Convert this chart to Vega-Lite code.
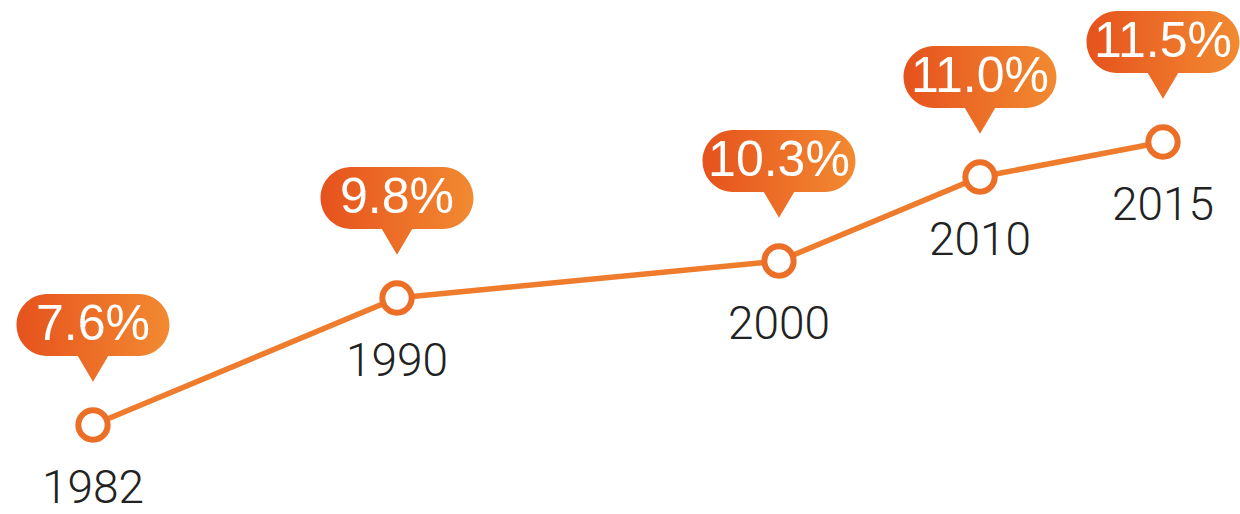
{
  "$schema": "https://vega.github.io/schema/vega-lite/v6.json",
  "width": 1240,
  "height": 514,
  "autosize": {"type": "fit", "contains": "padding"},
  "padding": 0,
  "background": "white",
  "config": {"view": {"stroke": null}},
  "data": {
    "values": [
      {"year": 1982, "rate": 7.6, "label": "7.6%"},
      {"year": 1990, "rate": 9.8, "label": "9.8%"},
      {"year": 2000, "rate": 10.3, "label": "10.3%"},
      {"year": 2010, "rate": 11.0, "label": "11.0%"},
      {"year": 2015, "rate": 11.5, "label": "11.5%"}
    ]
  },
  "encoding": {
    "x": {
      "field": "year",
      "type": "quantitative",
      "scale": {"domain": [1982, 1990, 2000, 2010, 2015], "range": [93, 397, 779, 980, 1163], "nice": false, "zero": false},
      "axis": null
    },
    "y": {
      "field": "rate",
      "type": "quantitative",
      "scale": {"domain": [7.6, 9.8, 10.3, 11.0, 11.5], "range": [425, 298, 261, 177, 142], "nice": false, "zero": false},
      "axis": null
    }
  },
  "layer": [
    {"mark": {"type": "line", "color": "#ef7b2c", "strokeWidth": 5.5}},
    {"mark": {"type": "point", "shape": "circle", "filled": true, "fill": "white", "stroke": "#ec6f27", "strokeWidth": 6, "size": 860, "opacity": 1}},
    {"mark": {
      "type": "point",
      "shape": "M -0.576 -0.3875 L 0.576 -0.3875 C 0.786 -0.3875 0.956 -0.21 0.956 0 C 0.956 0.21 0.786 0.3875 0.576 0.3875 L 0.19 0.3875 L 0 0.71 L -0.19 0.3875 L -0.576 0.3875 C -0.786 0.3875 -0.956 0.21 -0.956 0 C -0.956 -0.21 -0.786 -0.3875 -0.576 -0.3875 Z",
      "filled": true,
      "fill": {"gradient": "linear", "x1": 0, "y1": 0, "x2": 1, "y2": 0, "stops": [{"offset": 0, "color": "#e6521d"}, {"offset": 1, "color": "#f28a31"}]},
      "strokeWidth": 0,
      "size": 25600,
      "yOffset": -100,
      "opacity": 1
    }},
    {
      "mark": {"type": "text", "color": "white", "fontSize": 50, "font": "Liberation Sans", "baseline": "middle", "align": "center", "yOffset": -100},
      "encoding": {"text": {"field": "label", "type": "nominal"}}
    },
    {
      "mark": {"type": "text", "color": "#222222", "fontSize": 46, "font": "Roboto", "fontWeight": 300, "baseline": "alphabetic", "align": "center", "yOffset": 78},
      "encoding": {"text": {"field": "year", "type": "nominal"}}
    }
  ]
}
